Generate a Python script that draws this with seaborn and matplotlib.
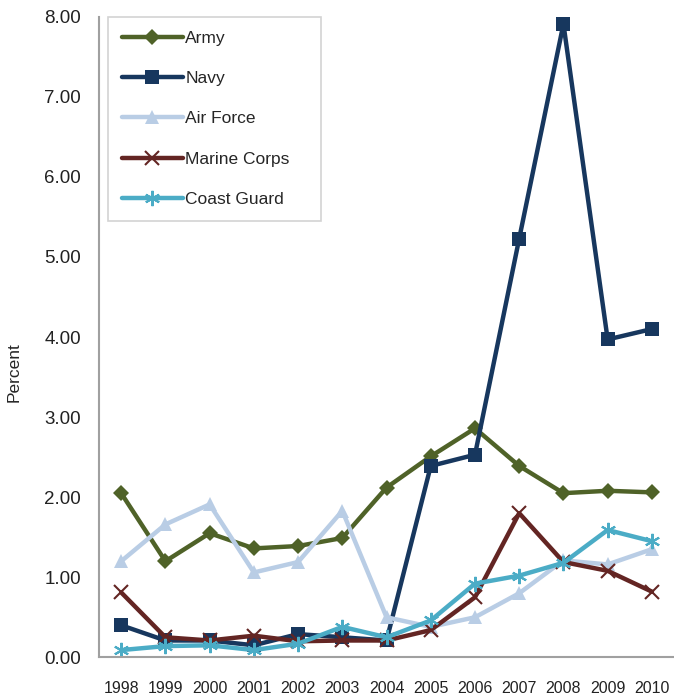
import numpy as np
import matplotlib.pyplot as plt
import pandas as pd
import seaborn as sns

# data
years = [1998, 1999, 2000, 2001, 2002, 2003, 2004, 2005, 2006, 2007, 2008, 2009, 2010]
army = [2.05, 1.20, 1.55, 1.36, 1.39, 1.49, 2.12, 2.51, 2.86, 2.39, 2.05, 2.08, 2.06]
navy = [0.40, 0.21, 0.21, 0.15, 0.29, 0.25, 0.21, 2.39, 2.53, 5.23, 7.91, 3.97, 4.10]
air_force = [1.20, 1.66, 1.91, 1.06, 1.19, 1.83, 0.50, 0.38, 0.50, 0.80, 1.21, 1.16, 1.35]
marine_corps = [0.81, 0.25, 0.21, 0.27, 0.20, 0.21, 0.21, 0.34, 0.75, 1.80, 1.19, 1.08, 0.82]
coast_guard = [0.09, 0.14, 0.15, 0.09, 0.17, 0.38, 0.25, 0.46, 0.92, 1.02, 1.18, 1.59, 1.45]

services = ["Army", "Navy", "Air Force", "Marine Corps", "Coast Guard"]
colors = ["#4F6228", "#17375E", "#B9CDE5", "#632523", "#4BACC6"]
markers = ["D", "s", "^", "x", (6, 2, 0)]
sizes = [8, 10, 10, 10, 11]

df = pd.DataFrame({
    "pos": list(range(len(years))) * 5,
    "value": army + navy + air_force + marine_corps + coast_guard,
    "service": sum([[s] * len(years) for s in services], []),
})

sns.set_style("white")
plt.rcParams['font.family'] = ['Liberation Sans', 'DejaVu Sans']

fig = plt.figure(figsize=(6.74, 7), dpi=100)
ax = fig.add_axes([0.147, 0.061, 0.853, 0.915])

for s, c, m, ms in zip(services, colors, markers, sizes):
    sub = df[df["service"] == s]
    sns.lineplot(data=sub, x="pos", y="value", ax=ax, color=c, linewidth=3.2,
                 marker=m, markersize=ms, markeredgewidth=1.5 if m in ["x", (6, 2, 0)] else 0,
                 markeredgecolor=c, label=s)

ax.set_xlim(-0.5, len(years) - 0.5)
ax.set_ylim(0, 8)
ax.set_yticks(np.arange(0, 8.01, 1))
ax.set_yticklabels([f"{v:.2f}" for v in np.arange(0, 8.01, 1)], fontsize=13.5, color="#222222")
ax.set_xticks(np.arange(-0.5, len(years), 1))
ax.set_xticklabels([])
ax.set_xticks(range(len(years)), minor=True)
ax.set_xticklabels([str(y) for y in years], minor=True, fontsize=11.5, color="#222222")
ax.tick_params(axis="x", which="major", direction="out", length=5, color="#A0A0A0", width=1.2)
ax.tick_params(axis="x", which="minor", length=0, pad=17)
ax.tick_params(axis="y", direction="out", length=4, color="#A0A0A0", width=1.2, pad=9)
ax.set_xlabel("")
ax.set_ylabel("Percent", fontsize=12.5)
ax.yaxis.set_label_coords(-0.134, 0.445)

for side in ["top", "right"]:
    ax.spines[side].set_visible(False)
for side in ["left", "bottom"]:
    ax.spines[side].set_color("#A0A0A0")
    ax.spines[side].set_linewidth(1.5)

leg = ax.legend(loc="upper left", bbox_to_anchor=(0.0157, 0.0, 0.37, 1.0), mode="expand",
                fontsize=12.5, frameon=True, fancybox=False, handlelength=3.5,
                handletextpad=0.15, labelspacing=1.45, borderpad=0.8, borderaxespad=0.0)
leg.get_frame().set_edgecolor("#C8C8C8")
leg.get_frame().set_linewidth(1.2)

fig.savefig("out.png", dpi=100)
